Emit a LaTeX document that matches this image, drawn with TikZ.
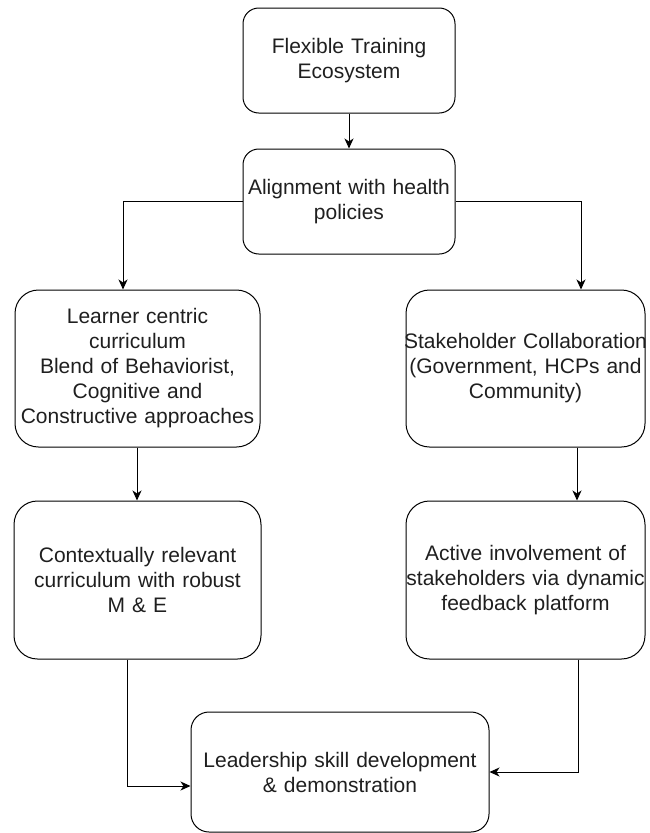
\documentclass[tikz,border=0pt]{standalone}
\usepackage{fontspec}
\setmainfont{Liberation Sans}
\usetikzlibrary{arrows.meta}
\begin{document}
\begin{tikzpicture}[x=1pt,y=-1pt,
  box/.style={draw=black, line width=1pt, align=center, inner sep=1pt,
    text=black!88, font=\fontsize{21}{25}\selectfont},
  arr/.style={draw=black, line width=1pt, -{Stealth[length=10pt,width=9pt,inset=3pt]}}]
\useasboundingbox (0,0) rectangle (649,833);
\node[box, rounded corners=15.75pt, minimum width=212pt, minimum height=105pt, text width=208pt] (eco) at (349,60.5) {Flexible Training\\Ecosystem};
\node[box, rounded corners=15.75pt, minimum width=212pt, minimum height=105pt, text width=208pt] (aln) at (349,201.5) {Alignment with health\\policies};
\node[box, rounded corners=23.5pt, minimum width=245pt, minimum height=157pt, text width=241pt] (lrn) at (137.5,368.5) {Learner centric\\curriculum\\Blend of Behaviorist,\\Cognitive and\\\makebox[\linewidth]{Constructive approaches}};
\node[box, rounded corners=23.5pt, minimum width=239pt, minimum height=157pt, text width=235pt] (stk) at (525.5,368.5) {\makebox[\linewidth]{Stakeholder Collaboration}\\(Government, HCPs and\\Community)};
\node[box, rounded corners=23.5pt, minimum width=247pt, minimum height=158pt, text width=243pt] (ctx) at (137.5,580) {Contextually relevant\\curriculum with robust\\M \& E};
\node[box, rounded corners=23.5pt, minimum width=239pt, minimum height=158pt, text width=235pt] (act) at (525.5,580) {Active involvement of\\\makebox[\linewidth]{stakeholders via dynamic}\\feedback platform};
\node[box, rounded corners=18pt, minimum width=298pt, minimum height=120pt, text width=294pt] (lead) at (340,772) {Leadership skill development\\\& demonstration};
\draw[arr] (eco.south) -- (aln.north);
\draw[arr] (aln.west) -| ([xshift=-14.5pt]lrn.north);
\draw[arr] (aln.east) -| ([xshift=55.5pt]stk.north);
\draw[arr] ([xshift=-0.5pt]lrn.south) -- ([xshift=-0.5pt]ctx.north);
\draw[arr] ([xshift=51.5pt]stk.south) -- ([xshift=51.5pt]act.north);
\draw[arr] ([xshift=-10.5pt]ctx.south) |- ([yshift=-14pt]lead.west);
\draw[arr] ([xshift=52.5pt]act.south) |- (lead.east);
\end{tikzpicture}
\end{document}
